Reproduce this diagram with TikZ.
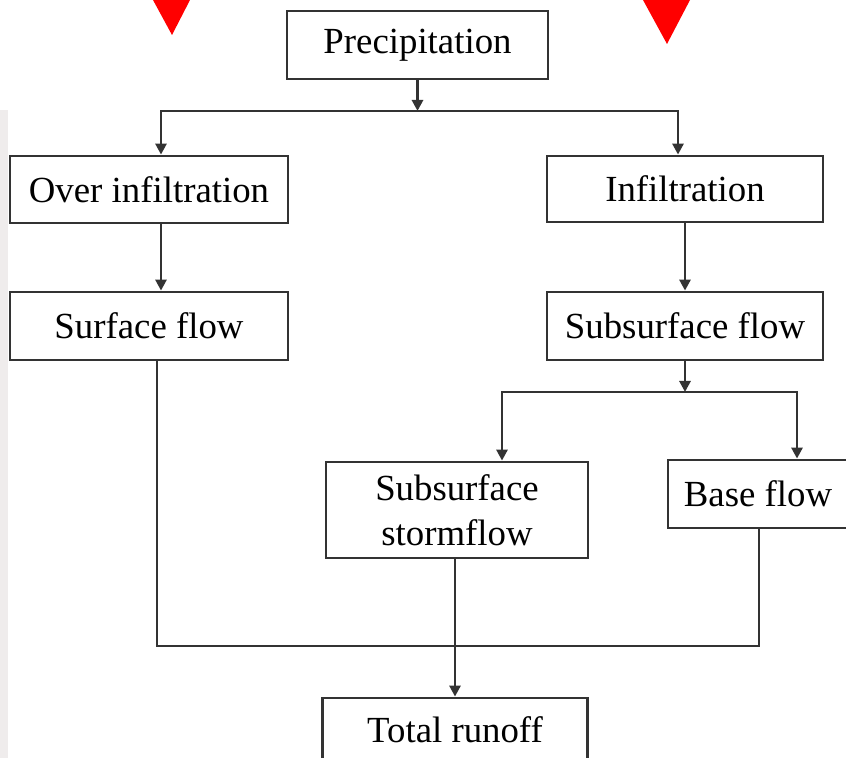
\documentclass[tikz,border=0pt]{standalone}
\usepackage{fontspec}
\setmainfont{Liberation Serif}
\usetikzlibrary{arrows.meta}

\begin{document}
\begin{tikzpicture}
[lineDecorate/.style={-,line width=1.4pt,black!80},%
  arrowDecorate/.style={-{Triangle[length=5.5pt,width=5.5pt]},line width=1.4pt,black!80},
  nodeDecorate/.style={shape=rectangle,draw=black!80,line width=1.4pt,inner sep=0pt,
    align=center,font=\fontsize{18.4}{22.5}\selectfont},
  x=0.5pt,y=-0.5pt]
\useasboundingbox (0,0) rectangle (846,758);
%% page edge and markers
\fill[red!8!gray!14] (0,110) rectangle (8,758);
\fill[red] (153,0) -- (190,0) -- (172,35) -- cycle;
\fill[red] (643,0) -- (690,0) -- (667,44) -- cycle;
%% boxes
\foreach \nodename/\x/\y/\w/\h/\txt in {
  prec/417.5/45/261/68/Precipitation,
  overinf/149/189.5/278/67/Over infiltration,
  inf/685/189/276/66/Infiltration,
  surf/149/326/278/68/Surface flow,
  subsurf/685/326/276/68/Subsurface flow,
  storm/457/510/262/96/{Subsurface\\stormflow},
  base/758/494/180/68/Base flow,
  total/455/730/265/64/Total runoff}
{
  \node (\nodename) at (\x,\y) [nodeDecorate,minimum width=\w*0.5pt,minimum height=\h*0.5pt] {\txt};
}
%% junctions
\coordinate (j1) at (417.5,111);
\coordinate (l1) at (161,111);
\coordinate (r1) at (678,111);
\coordinate (j2) at (685,392);
\coordinate (l2) at (502,392);
\coordinate (r2) at (797,392);
\coordinate (jl) at (157,646);
\coordinate (jr) at (759,646);
%% edges or lines
\draw[arrowDecorate] (prec) -- (j1);
\draw[arrowDecorate] (j1) -- (l1) -- (l1 |- overinf.north);
\draw[arrowDecorate] (j1) -- (r1) -- (r1 |- inf.north);
\draw[arrowDecorate] (l1 |- overinf.south) -- (l1 |- surf.north);
\draw[arrowDecorate] (inf) -- (subsurf);
\draw[arrowDecorate] (subsurf) -- (j2);
\draw[arrowDecorate] (j2) -- (l2) -- (l2 |- storm.north);
\draw[arrowDecorate] (j2) -- (r2) -- (r2 |- base.north);
\draw[lineDecorate] (jl |- surf.south) -- (jl) -- (jr) -- (jr |- base.south);
\draw[arrowDecorate] (total |- storm.south) -- (total);
\end{tikzpicture}
\end{document}
